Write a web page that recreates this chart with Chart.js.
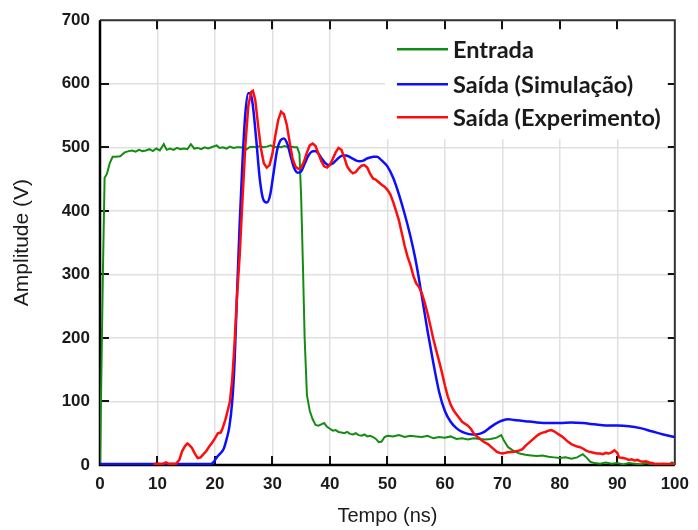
<!DOCTYPE html>
<html>
<head>
<meta charset="utf-8">
<script src="https://cdn.jsdelivr.net/npm/chart.js@4.4.1/dist/chart.umd.min.js"></script>
<style>
  html, body { margin: 0; padding: 0; background: #fff; }
  #wrap { width: 698px; height: 530px; position: relative; }
</style>
</head>
<body>
<div id="wrap"><canvas id="c" width="698" height="530"></canvas></div>
<script>
// ---- Data ----
const seriesLabels = ['Entrada', 'Saída (Simulação)', 'Saída (Experimento)'];
const xTitle = 'Tempo (ns)';
const yTitle = 'Amplitude (V)';
const xTicks = [0, 10, 20, 30, 40, 50, 60, 70, 80, 90, 100];
const yTicks = [0, 100, 200, 300, 400, 500, 600, 700];

// Entrada (green)
const entradaT = [0, 0.15, 0.5, 0.8, 1.2, 1.7, 2.2, 2.8, 3.5, 4.3, 5, 5.6, 6.2, 6.8, 7.4, 8, 8.6, 9.2, 9.8, 10.4, 11.1, 11.6, 12.2, 12.8, 13.4, 14, 14.6, 15.2, 15.8, 16.4, 17, 17.6, 18.2, 18.8, 19.4, 20.3, 20.8, 21.4, 22, 22.6, 23.2, 23.8, 24.4, 25, 25.4, 26, 26.6, 27.2, 27.8, 28.4, 29, 29.7, 30.3, 30.9, 31.5, 32.1, 32.7, 33.3, 33.9, 34.3, 34.7, 35.0, 35.3, 35.6, 36.0, 36.5, 37.0, 37.5, 38, 38.5, 39, 39.5, 40, 40.5, 41, 41.5, 42, 42.5, 43, 43.5, 44, 44.5, 45, 45.5, 46, 46.5, 47, 47.5, 48, 48.5, 49, 49.5, 50, 51, 52, 53, 54, 55, 56, 57, 58, 59, 60, 61, 62, 63, 64, 65, 66, 67, 68, 69, 69.8, 70.3, 71, 72, 73, 74, 75, 76, 77, 78, 79, 80, 81, 82, 83, 84, 84.6, 85.3, 86, 87, 88, 89, 90, 91, 92, 93, 94, 95, 96, 97, 98, 99, 99.5, 100];
const entradaV = [0, 0, 300, 452, 458, 475, 485, 485, 486, 492, 494, 495, 493, 496, 494, 495, 497, 494, 498, 495, 505, 496, 498, 496, 499, 497, 498, 497, 505, 498, 499, 497, 500, 498, 500, 503, 499, 500, 498, 501, 499, 500, 500, 499, 496, 500, 501, 500, 502, 500, 501, 503, 500, 501, 500, 502, 500, 501, 500, 500, 490, 420, 315, 200, 110, 85, 72, 63, 62, 64, 66, 60, 57, 54, 55, 52, 51, 50, 52, 49, 48, 50, 47, 46, 48, 45, 46, 44, 41, 36, 37, 44, 46, 45, 47, 44, 46, 45, 44, 46, 42, 44, 43, 45, 41, 42, 40, 42, 41, 40, 41, 43, 47, 38, 28, 22, 18, 16, 15, 14, 15, 13, 12, 11, 12, 10, 12, 17, 12, 5, 3, 2, 4, 2, 3, 1, 3, 2, 1, 3, 1, 2, 1, 1, 4, 2];

// Saída (Simulação) (blue)
const simT = [0, 19.3, 19.8, 20.3, 21, 21.5, 22, 22.5, 23, 23.4, 23.8, 24.3, 24.8, 25.3, 25.8, 26.2, 26.6, 27.2, 27.8, 28.4, 29, 29.6, 30.2, 30.8, 31.4, 32, 32.6, 33.2, 33.8, 34.4, 35, 35.6, 36.2, 36.8, 37.4, 38, 38.6, 39.2, 39.8, 40.4, 41, 41.6, 42.2, 42.8, 43.4, 44, 44.6, 45.2, 45.8, 46.4, 47, 47.6, 48.2, 48.8, 49.4, 50, 51, 52, 53, 54, 55, 56, 57, 58, 59, 60, 61, 62, 63, 64, 65, 66, 67, 68, 69, 70, 71, 72, 74, 76, 78, 80, 82, 84, 86, 88, 90, 92, 94, 96, 98, 100];
const simV = [1.5, 1.5, 5, 12, 19, 25, 40, 60, 100, 160, 260, 380, 480, 555, 585, 585, 565, 510, 450, 418, 413, 425, 460, 495, 511, 514, 505, 485, 467, 460, 462, 474, 486, 493, 494, 490, 482, 475, 472, 474, 479, 484, 487, 487, 485, 482, 479, 478, 479, 482, 484, 485, 485, 481, 476, 470, 452, 426, 395, 360, 318, 265, 210, 160, 115, 85, 68, 58, 52, 49, 48, 49, 53, 60, 66, 70, 72, 71, 69, 67, 66, 66, 67, 66, 64, 62, 62, 61, 58, 53, 48, 44];

// Saída (Experimento) (red)
const expT = [9.3, 10, 10.5, 11, 11.5, 12, 12.5, 13.2, 13.8, 14.3, 14.8, 15.2, 15.6, 16, 16.5, 17, 17.5, 18, 18.5, 19, 19.5, 20, 20.5, 21, 21.3, 21.8, 22.2, 22.6, 23, 23.4, 23.8, 24.3, 24.8, 25.3, 25.8, 26.3, 26.6, 27, 27.5, 28, 28.5, 29, 29.5, 30, 30.5, 31, 31.5, 32, 32.5, 33, 33.5, 34, 34.5, 35, 35.5, 36, 36.5, 37, 37.5, 38, 38.5, 39, 39.5, 40, 40.5, 41, 41.5, 42, 42.5, 43, 43.5, 44, 44.5, 45, 45.5, 46, 46.5, 47, 47.5, 48, 48.5, 49, 49.5, 50, 50.5, 51, 51.5, 52, 52.5, 53, 53.5, 54, 54.5, 55, 55.5, 56, 56.5, 57, 57.5, 58, 58.5, 59, 59.5, 60, 60.5, 61, 61.5, 62, 62.5, 63, 63.5, 64, 64.5, 65, 65.5, 66, 66.5, 67, 67.5, 68, 68.5, 69, 69.5, 70, 71, 72, 73, 73.5, 74, 74.5, 75, 75.5, 76, 76.5, 77, 77.5, 78, 78.5, 79, 79.5, 80, 80.5, 81, 81.5, 82, 82.5, 83, 83.5, 84, 84.5, 85, 85.5, 86, 86.5, 87, 87.5, 88, 88.5, 89, 89.5, 90, 90.3, 91, 91.5, 92, 92.5, 93, 93.5, 94, 94.5, 95, 95.5, 96, 96.5, 97, 98, 99, 100];
const expV = [1.5, 2, 1.5, 2, 4, 1.5, 2, 1.5, 8, 22, 30, 34, 31, 27, 18, 11, 12, 17, 22, 29, 35, 42, 50, 51, 57, 71, 85, 100, 134, 190, 260, 330, 420, 505, 565, 587, 589, 575, 535, 498, 475, 468, 472, 490, 518, 543, 556, 552, 535, 508, 482, 470, 466, 468, 478, 492, 503, 506, 502, 490, 478, 470, 468, 472, 482, 492, 499, 496, 484, 470, 463, 459, 461, 467, 471, 472, 468, 458, 451, 449, 445, 441, 438, 433, 426, 414, 400, 385, 365, 345, 328, 315, 298, 286, 280, 270, 255, 238, 218, 198, 180, 163, 145, 125, 108, 95, 86, 80, 74, 68, 65, 62, 57, 50, 45, 42, 38, 35, 33, 29, 25, 21, 19, 18, 20, 21, 23, 25, 30, 34, 38, 42, 46, 49, 51, 52, 54, 55, 53, 50, 47, 44, 40, 36, 33, 31, 29, 28, 26, 23, 21, 20, 19, 18, 18, 17, 19, 18, 20, 23, 19, 12, 11, 10, 8, 9, 7, 8, 6, 5, 6, 4, 3, 2, 1.5, 2, 1.5, 1.5];

const colors = ['#148c14', '#0d0dff', '#ff0d0d'];

function pts(ts, vs) { return ts.map((t, i) => ({ x: t, y: vs[i] })); }

const FONT_TICK = { family: "'Liberation Sans', Arial, sans-serif", size: 17, weight: 'bold' };
const TEXT = '#1a1a1a';

// Legend box, inside ticks, borders
const framePlugin = {
  id: 'frame',
  beforeDatasetsDraw(chart) {
    const { ctx, chartArea: a, scales } = chart;
    const xs = scales.x, ys = scales.y;
    ctx.save();
    // white legend backdrop (hides grid there)
    ctx.fillStyle = '#ffffff';
    ctx.fillRect(a.left + 285, a.top + 1, a.right - a.left - 286, 118);
    ctx.lineCap = 'butt';
    // tick marks inside
    ctx.strokeStyle = '#111';
    ctx.lineWidth = 2;
    xs.ticks.forEach(t => {
      const px = Math.round(xs.getPixelForValue(t.value));
      if (t.value === 0 || t.value === 100) return;
      ctx.beginPath();
      ctx.moveTo(px, a.bottom); ctx.lineTo(px, a.bottom - 9);
      ctx.moveTo(px, a.top); ctx.lineTo(px, a.top + 9);
      ctx.stroke();
    });
    ys.ticks.forEach(t => {
      const py = Math.round(ys.getPixelForValue(t.value));
      if (t.value === 0 || t.value === 700) return;
      ctx.beginPath();
      ctx.moveTo(a.left, py); ctx.lineTo(a.left + 9, py);
      ctx.moveTo(a.right, py); ctx.lineTo(a.right - 7, py);
      ctx.stroke();
    });
    // borders
    ctx.strokeStyle = '#333';
    ctx.lineWidth = 2;
    ctx.beginPath();
    ctx.moveTo(a.left, a.top); ctx.lineTo(a.right, a.top); ctx.lineTo(a.right, a.bottom);
    ctx.stroke();
    ctx.strokeStyle = '#000';
    ctx.lineWidth = 2.5;
    ctx.beginPath();
    ctx.moveTo(a.left, a.top); ctx.lineTo(a.left, a.bottom); ctx.lineTo(a.right, a.bottom);
    ctx.stroke();
    ctx.restore();
  },
  afterDatasetsDraw(chart) {
    const { ctx, chartArea: a } = chart;
    ctx.save();
    ctx.font = "bold 23.5px 'Lato', 'Open Sans', sans-serif";
    ctx.textBaseline = 'middle';
    ctx.textAlign = 'left';
    const x0 = a.left + 297, x1 = a.left + 348, tx = a.left + 353;
    const rowY = [a.top + 29, a.top + 64, a.top + 97];
    chart.data.datasets.forEach((ds, i) => {
      ctx.strokeStyle = ds.borderColor;
      ctx.lineWidth = 2.5;
      ctx.beginPath();
      ctx.moveTo(x0, rowY[i]); ctx.lineTo(x1, rowY[i]);
      ctx.stroke();
      ctx.fillStyle = TEXT;
      ctx.fillText(ds.label, tx, rowY[i] + 1);
    });
    ctx.restore();
  }
};

new Chart(document.getElementById('c'), {
  type: 'line',
  data: {
    datasets: [
      { label: seriesLabels[0], data: pts(entradaT, entradaV), borderColor: colors[0], borderWidth: 2, pointRadius: 0, tension: 0, order: 3 },
      { label: seriesLabels[1], data: pts(simT, simV), borderColor: colors[1], borderWidth: 2.5, pointRadius: 0, cubicInterpolationMode: 'monotone', order: 2 },
      { label: seriesLabels[2], data: pts(expT, expV), borderColor: colors[2], borderWidth: 2.5, pointRadius: 0, tension: 0, order: 1 }
    ]
  },
  options: {
    responsive: false,
    animation: false,
    layout: { padding: { left: 0, right: 15, top: 20, bottom: 0 } },
    plugins: { legend: { display: false }, tooltip: { enabled: false } },
    scales: {
      x: {
        type: 'linear', min: 0, max: 100,
        afterBuildTicks: s => { s.ticks = xTicks.map(v => ({ value: v })); },
        afterFit: s => { s.height = 65; },
        ticks: { font: FONT_TICK, color: TEXT, padding: 9, maxRotation: 0, autoSkip: false },
        grid: { color: '#e0e0e0', lineWidth: 1.5, drawTicks: false },
        border: { display: false },
        title: { display: true, text: xTitle, color: TEXT, font: { family: "'Liberation Sans', Arial, sans-serif", size: 20 }, padding: { top: 0, bottom: 2 } }
      },
      y: {
        min: 0, max: 700,
        afterBuildTicks: s => { s.ticks = yTicks.map(v => ({ value: v })); },
        afterFit: s => { s.width = 100; },
        ticks: { font: FONT_TICK, color: TEXT, padding: 10, autoSkip: false },
        grid: { color: '#e0e0e0', lineWidth: 1.5, drawTicks: false },
        border: { display: false },
        title: { display: true, text: yTitle, color: TEXT, font: { family: "'Liberation Sans', Arial, sans-serif", size: 21 }, padding: { top: 10, bottom: 0 } }
      }
    }
  },
  plugins: [framePlugin]
});
</script>
</body>
</html>
